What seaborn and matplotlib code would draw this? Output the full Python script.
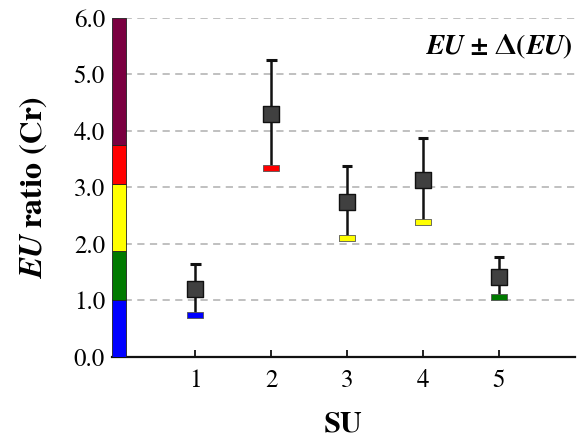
import matplotlib
matplotlib.use("Agg")
import matplotlib.pyplot as plt
import seaborn as sns
import pandas as pd

# ---- data ----
su = [1, 2, 3, 4, 5]
eu = [1.20, 4.30, 2.74, 3.13, 1.42]
delta = [0.45, 0.96, 0.64, 0.75, 0.35]
band_edges = [0.0, 1.0, 1.87, 3.07, 3.75, 6.0]
band_colors = ["#0000FF", "#007A00", "#FFFF00", "#FF0000", "#7A0040"]
yticks = [0.0, 1.0, 2.0, 3.0, 4.0, 5.0, 6.0]
xticks = [1, 2, 3, 4, 5]

sns.set_theme(style="white")
plt.rcParams["font.family"] = ["FreeSerif", "Liberation Serif", "DejaVu Serif"]
plt.rcParams["mathtext.fontset"] = "custom"
plt.rcParams["mathtext.rm"] = "FreeSerif:bold"
plt.rcParams["mathtext.it"] = "FreeSerif:italic:bold"
plt.rcParams["mathtext.bf"] = "FreeSerif:bold"
for k in ["text.color", "axes.labelcolor", "xtick.color", "ytick.color"]:
    plt.rcParams[k] = "black"

df = pd.DataFrame({"SU": su, "EU": eu, "delta": delta})
df["lower"] = df["EU"] - df["delta"]
df["upper"] = df["EU"] + df["delta"]

def band_color(v):
    for i in range(len(band_colors)):
        if band_edges[i] <= v < band_edges[i + 1]:
            return band_colors[i]
    return band_colors[-1]

df["lcolor"] = [band_color(v) for v in df["lower"]]

fig = plt.figure(figsize=(5.83, 4.38), dpi=100)
ax = fig.add_axes([0.192, 0.185, 0.794, 0.774])

# colour scale bar at x = 0
for i, c in enumerate(band_colors):
    ax.bar(-0.01, band_edges[i + 1] - band_edges[i], bottom=band_edges[i],
           width=0.18, color=c, edgecolor="#202020", linewidth=0.6, zorder=3)

# grid
for y in yticks[1:]:
    ax.axhline(y, color="#BBBBBB", lw=1.3, ls=(0, (4, 3)), zorder=0)

# error lines (lower to upper) with cap on top
ax.vlines(df["SU"], df["lower"], df["upper"], color="#111111", lw=1.8, zorder=2)
ax.hlines(df["upper"], df["SU"] - 0.07, df["SU"] + 0.07, color="#111111", lw=2.2, zorder=2)

# lower bound markers (coloured rectangles)
rect = [(-1, -0.42), (1, -0.42), (1, 0.42), (-1, 0.42), (-1, -0.42)]
for _, r in df.iterrows():
    ax.scatter([r["SU"]], [r["lower"]], marker=rect, s=130, color=r["lcolor"],
               edgecolor="#555555", linewidth=0.6, zorder=4)

# EU squares
sns.scatterplot(data=df, x="SU", y="EU", marker="s", s=125, color="#404040",
                edgecolor="#111111", linewidth=1.0, zorder=5, ax=ax, legend=False)

ax.set_xlim(-0.1, 6.0)
ax.set_ylim(0, 6.0)
ax.set_xticks(xticks)
ax.set_xticklabels([str(x) for x in xticks])
ax.set_yticks(yticks)
ax.set_yticklabels([f"{y:.1f}" for y in yticks])
ax.tick_params(axis="x", direction="in", length=5, width=1.3, color="#111111",
               labelsize=18, pad=9, bottom=True)
ax.tick_params(axis="y", length=0, labelsize=18, pad=5)
for s in ["top", "right", "left"]:
    ax.spines[s].set_visible(False)
ax.spines["bottom"].set_color("#111111")
ax.spines["bottom"].set_linewidth(1.6)

ax.set_xlabel("SU", fontsize=21.5, fontweight="bold", labelpad=13)
ax.set_ylabel(r"$EU$ ratio (Cr)", fontsize=23, fontweight="bold", labelpad=18)

ax.text(0.995, 0.914, r"$EU$ ± Δ$\mathit{(EU)}$", transform=ax.transAxes, ha="right", va="center",
        fontsize=20, fontweight="bold")

fig.savefig("out.png", dpi=100)
